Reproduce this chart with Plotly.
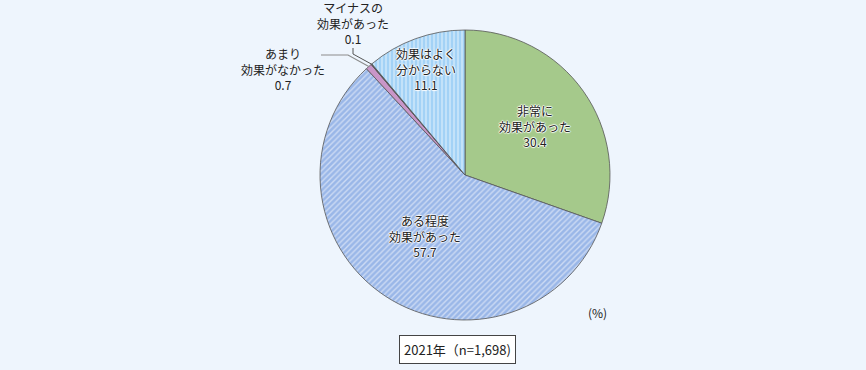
import math
import plotly.graph_objects as go

# ---- data ----
labels = ["非常に<br>効果があった", "ある程度<br>効果があった", "あまり<br>効果がなかった",
          "マイナスの<br>効果があった", "効果はよく<br>分からない"]
values = [30.4, 57.7, 0.7, 0.1, 11.1]
value_text = ["30.4", "57.7", "0.7", "0.1", "11.1"]
year_label = "2021年（n=1,698)"
unit_label = "(%)"

# ---- style ----
W, H = 866, 370
CX, CY, R = 465, 175, 145  # pixel centre and radius
colors = ["#A5C98B", "#9AB7E8", "#C996C8", "#555555", "#A3D2F6"]
shapes_pat = ["", "/", "", "", "|"]
font_family = "Noto Sans CJK JP, Noto Sans, sans-serif"
bg = "#EEF5FD"
FS = 12

fig = go.Figure()
fig.add_trace(go.Pie(
    labels=labels, values=values, sort=False, direction="clockwise", rotation=0,
    textinfo="none", hoverinfo="label+value",
    marker=dict(colors=colors, line=dict(color="#555555", width=0.8),
                pattern=dict(shape=shapes_pat, fgcolor="white", bgcolor=colors,
                             size=4, solidity=0.35, fillmode="overlay")),
    domain=dict(x=[(CX - R) / W, (CX + R) / W], y=[(H - CY - R) / H, (H - CY + R) / H]),
    showlegend=False,
))

def px2paper(x, y):
    return x / W, 1 - y / H

def slice_point(i, frac_r):
    total = sum(values)
    start = sum(values[:i]) / total
    mid = (start + values[i] / total / 2) * 2 * math.pi
    return CX + frac_r * R * math.sin(mid), CY - frac_r * R * math.cos(mid)

def ann(x, y, text, size=FS, **kw):
    px, py = px2paper(x, y)
    d = dict(x=px, y=py, xref="paper", yref="paper", showarrow=False, text=text,
             xanchor="center", yanchor="middle", align="center",
             font=dict(size=size, color="#222222", family=font_family))
    d.update(kw)
    return d

halo = "white 1px 0px 1px, white -1px 0px 1px, white 0px 1px 1px, white 0px -1px 1px"
inside_r = {0: 0.59, 1: 0.50, 4: 0.78}
annotations = []
for i, rf in inside_r.items():
    x, y = slice_point(i, rf)
    annotations.append(ann(x, y, labels[i] + "<br>" + value_text[i],
                           font=dict(size=FS, color="#222222", family=font_family, shadow=halo)))

# outside labels for small slices with leader lines
shapes = []
# slice 2 (0.7)
ex, ey = slice_point(2, 1.0)
shapes.append(dict(type="path", xref="paper", yref="paper",
                   path="M {} {} L {} {} L {} {}".format(*px2paper(321, 55), *px2paper(348, 55), *px2paper(ex, ey)),
                   line=dict(color="#8C8C8C", width=1.2)))
annotations.append(ann(283, 69, labels[2] + "<br>" + value_text[2]))
# slice 3 (0.1)
ex, ey = slice_point(3, 1.0)
shapes.append(dict(type="path", xref="paper", yref="paper",
                   path="M {} {} L {} {} L {} {}".format(*px2paper(353, 48), *px2paper(353, 54), *px2paper(ex, ey)),
                   line=dict(color="#555555", width=1)))
annotations.append(ann(353, 23, labels[3] + "<br>" + value_text[3]))

# unit and year box
annotations.append(ann(597, 312, unit_label))
annotations.append(ann(457, 349, year_label, size=13, bgcolor="white", bordercolor="#444444",
                       borderwidth=1, borderpad=4))

fig.update_layout(width=W, height=H, margin=dict(l=0, r=0, t=0, b=0),
                  paper_bgcolor=bg, plot_bgcolor=bg,
                  annotations=annotations, shapes=shapes,
                  font=dict(family=font_family))
fig.write_html("out.html", config={"displayModeBar": False},
               post_script="document.body.style.margin='0';document.body.style.overflow='hidden';")
